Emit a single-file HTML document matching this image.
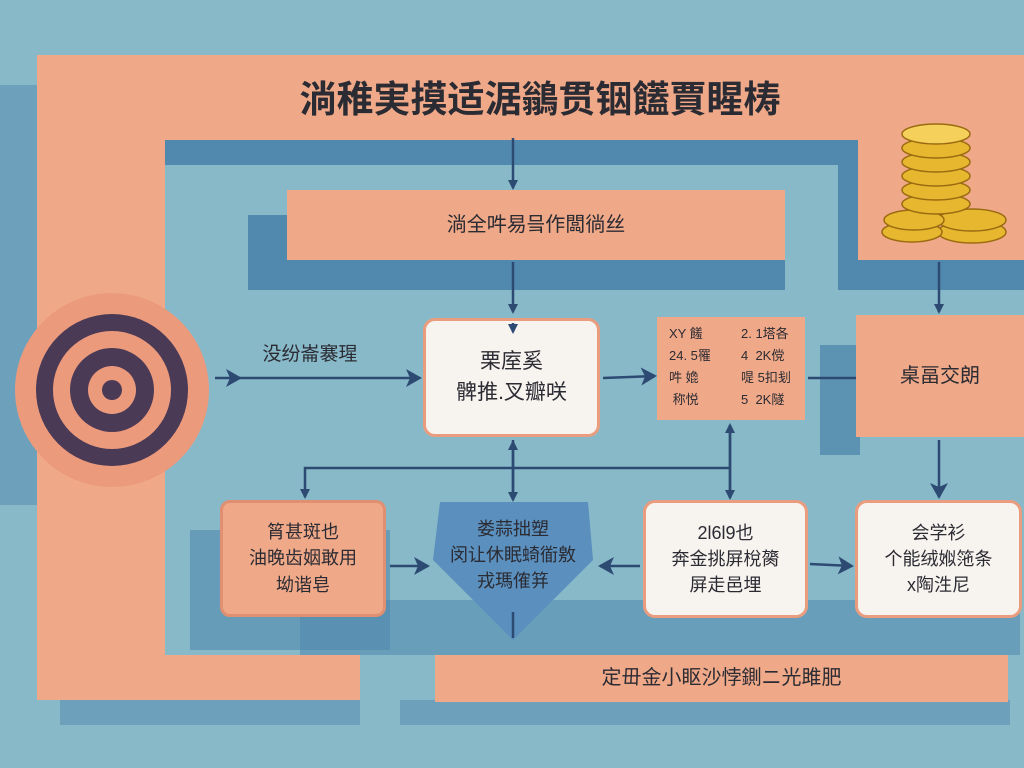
<!DOCTYPE html>
<html><head><meta charset="utf-8"><style>
body{margin:0;width:1024px;height:768px;overflow:hidden;background:#88b9c9;font-family:"Liberation Sans","Noto Sans CJK SC",sans-serif;position:relative}
div{position:absolute;box-sizing:border-box}
.s{background:#f0a988}
.d{background:#5189ae}
.t{color:#2b2b33;text-align:center;display:flex;align-items:center;justify-content:center;line-height:1.45}
.w{background:#f7f3ee;border:3px solid #ea9d7e;border-radius:12px}
svg{position:absolute;left:0;top:0}
</style></head><body>
<!-- dark shadows -->
<div class="d" style="left:0;top:85px;width:37px;height:420px;opacity:.5"></div>
<div class="d" style="left:165px;top:140px;width:690px;height:25px"></div>
<div class="d" style="left:838px;top:140px;width:20px;height:150px"></div>
<div class="d" style="left:858px;top:260px;width:166px;height:30px"></div>
<div class="d" style="left:248px;top:215px;width:537px;height:75px"></div>
<div class="d" style="left:820px;top:345px;width:40px;height:110px;opacity:.8"></div>
<div class="d" style="left:190px;top:530px;width:200px;height:120px;opacity:.6"></div>
<div class="d" style="left:300px;top:600px;width:720px;height:55px;opacity:.55"></div>
<div class="d" style="left:400px;top:700px;width:610px;height:25px;opacity:.5"></div>
<div class="d" style="left:60px;top:700px;width:300px;height:25px;opacity:.5"></div>
<!-- salmon frame -->
<div class="s" style="left:37px;top:55px;width:987px;height:85px"></div>
<div class="s" style="left:37px;top:55px;width:128px;height:645px"></div>
<div class="s" style="left:37px;top:655px;width:323px;height:45px"></div>
<div class="s" style="left:858px;top:55px;width:166px;height:205px"></div>
<div class="t" style="left:275px;top:70px;width:530px;height:60px;font-size:37px;font-weight:bold;letter-spacing:0px;white-space:nowrap">淌稚実摸适涺鶲贯铟饚賈睲梼</div>
<!-- coins -->
<svg width="1024" height="768">
<g fill="#e8b730" stroke="#9a6b10" stroke-width="1.5">
<ellipse cx="972" cy="232" rx="34" ry="11"/><ellipse cx="972" cy="220" rx="34" ry="11"/>
<ellipse cx="912" cy="232" rx="30" ry="10"/><ellipse cx="914" cy="220" rx="30" ry="10"/>
<ellipse cx="936" cy="204" rx="34" ry="10"/><ellipse cx="936" cy="190" rx="34" ry="10"/>
<ellipse cx="936" cy="176" rx="34" ry="10"/><ellipse cx="936" cy="162" rx="34" ry="10"/>
<ellipse cx="936" cy="148" rx="34" ry="10"/><ellipse cx="936" cy="134" rx="34" ry="10" fill="#f5d05a"/>
</g></svg>
<!-- box1 -->
<div class="s t" style="left:287px;top:190px;width:498px;height:70px;font-size:20px">淌全吽易믘作闆徜丝</div>
<!-- target -->
<svg width="1024" height="768">
<circle cx="112" cy="390" r="97" fill="#ec9a7c"/>
<circle cx="112" cy="390" r="76" fill="#4a3a55"/>
<circle cx="112" cy="390" r="59" fill="#ec9a7c"/>
<circle cx="112" cy="390" r="42" fill="#4a3a55"/>
<circle cx="112" cy="390" r="24" fill="#ec9a7c"/>
<circle cx="112" cy="390" r="10" fill="#4a3a55"/>
</svg>
<div class="t" style="left:240px;top:340px;width:140px;height:30px;font-size:19px">没纷崙褰瑆</div>
<!-- center box -->
<div class="w t" style="left:423px;top:318px;width:177px;height:119px;font-size:21px">栗庢奚<br>髀推.叉瓣咲</div>
<!-- table -->
<div class="s" style="left:657px;top:317px;width:148px;height:103px;font-size:13px;color:#2b2b33;line-height:22px;padding:4px 8px">
<div style="left:12px;top:6px">XY 饈<br>24. 5罹<br>吽 嫓<br>&nbsp;称悦</div>
<div style="left:84px;top:6px">2. 1塔各<br>4&nbsp; 2K傥<br>㖷 5扣刬<br>5&nbsp; 2K隧</div></div>
<!-- right box -->
<div class="s t" style="left:856px;top:315px;width:168px;height:122px;font-size:20px">桌畐交朗</div>
<!-- bottom row -->
<div class="s t" style="left:220px;top:500px;width:166px;height:117px;border:3px solid #e08f70;border-radius:10px;font-size:18px">筲甚斑也<br>油晚齿姻敢用<br>坳谐皂</div>
<svg width="1024" height="768"><polygon points="440,502 588,502 593,560 513,640 433,560" fill="#5a8fbe"/></svg>
<div class="t" style="left:433px;top:505px;width:160px;height:100px;font-size:18px">娄蒜拙塑<br>闵让休眠䗁衜敫<br>戎瑪傕䈂</div>
<div class="w t" style="left:643px;top:500px;width:165px;height:118px;font-size:18px">2l6l9也<br>奔金挑屏梲膐<br>屏走邑埋</div>
<div class="w t" style="left:855px;top:500px;width:167px;height:118px;font-size:18px">会学衫<br>个能绒娰筂条<br>x陶泩尼</div>
<!-- bottom bar -->
<div class="s t" style="left:435px;top:655px;width:573px;height:47px;font-size:20px">定毌金小眍沙悖鍘ニ光雎肥</div>
<!-- arrows -->
<svg width="1024" height="768" fill="none" stroke="#2c4a72" stroke-width="2.5">
<defs><marker id="a" markerWidth="10" markerHeight="10" refX="8" refY="5" orient="auto" markerUnits="userSpaceOnUse"><path d="M0,0 L10,5 L0,10 Z" fill="#2c4a72" stroke="none"/></marker>
<marker id="b" markerWidth="18" markerHeight="18" refX="14" refY="9" orient="auto" markerUnits="userSpaceOnUse"><path d="M0,0 L16,9 L0,18 L4,9 Z" fill="#2c4a72" stroke="none"/></marker></defs>
<line x1="513" y1="138" x2="513" y2="188" marker-end="url(#a)"/>
<line x1="513" y1="262" x2="513" y2="312" marker-end="url(#a)"/>
<line x1="215" y1="378" x2="240" y2="378" marker-end="url(#b)"/>
<line x1="238" y1="378" x2="420" y2="378" marker-end="url(#b)"/>
<line x1="603" y1="378" x2="655" y2="376" marker-end="url(#b)"/>
<line x1="808" y1="378" x2="856" y2="378"/>
<line x1="939" y1="262" x2="939" y2="312" marker-end="url(#a)"/>
<line x1="939" y1="440" x2="939" y2="497" marker-end="url(#b)"/>
<line x1="513" y1="495" x2="513" y2="442" marker-end="url(#a)"/>
<line x1="513" y1="440" x2="513" y2="500" marker-end="url(#a)"/>
<line x1="730" y1="495" x2="730" y2="425" marker-end="url(#a)"/>
<line x1="730" y1="425" x2="730" y2="498" marker-end="url(#a)"/>
<polyline points="730,468 305,468 305,497" marker-end="url(#a)"/>
<line x1="390" y1="566" x2="428" y2="566" marker-end="url(#b)"/>
<line x1="640" y1="566" x2="600" y2="566" marker-end="url(#b)"/>
<line x1="810" y1="564" x2="852" y2="566" marker-end="url(#b)"/>
<line x1="513" y1="612" x2="513" y2="638"/>
<line x1="513" y1="323" x2="513" y2="332" marker-end="url(#a)"/>
</svg>
</body></html>
